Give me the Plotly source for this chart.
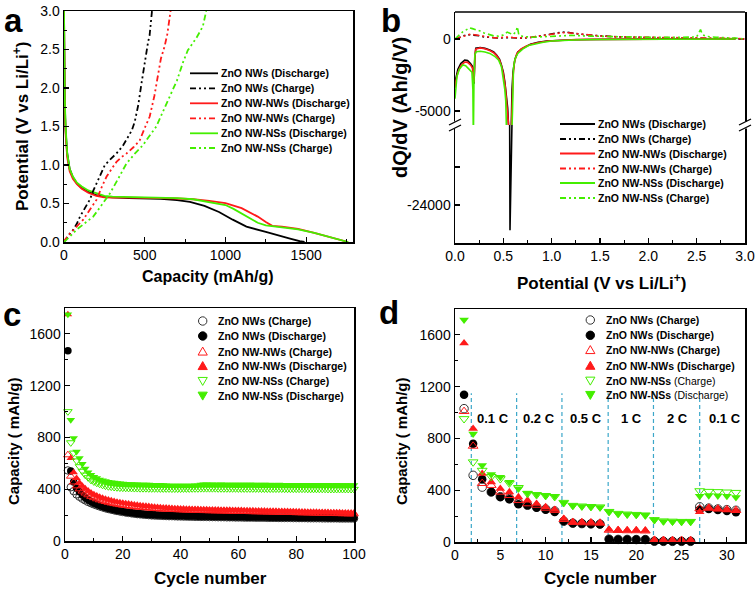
import plotly.graph_objects as go

W, H = 756, 590
FONT = "Liberation Sans, Arial, Helvetica, sans-serif"
BLACK = "#000000"
RED = "#ff1a1a"
GREEN = "#44ee00"
GREY = "#333333"
RATE_LINE = "#3ba7c9"
DASH = "6px,3px,2px,3px,2px,3px"

# ---------------- Panel a : first charge/discharge profiles ----------------
a_nws_dis_cap = [0, 2, 5, 10, 20, 35, 55, 80, 110, 150, 200, 250, 300, 400, 500, 600, 700, 780, 870, 960,
                 1045, 1100, 1130, 1250, 1330, 1400, 1460, 1490]
a_nws_dis_v = [3.0, 2.3, 1.8, 1.45, 1.15, 0.95, 0.84, 0.76, 0.70, 0.65, 0.61, 0.59, 0.58, 0.57, 0.565, 0.56,
               0.545, 0.52, 0.47, 0.39, 0.29, 0.23, 0.20, 0.13, 0.08, 0.045, 0.01, 0.0]
a_nwnws_dis_cap = [0, 2, 5, 10, 20, 35, 55, 80, 110, 150, 200, 250, 300, 400, 500, 600, 700, 800, 900, 1000,
                   1100, 1150, 1200, 1250, 1290, 1350, 1450, 1550, 1650, 1720, 1760]
a_nwnws_dis_v = [3.0, 2.2, 1.75, 1.4, 1.1, 0.92, 0.82, 0.75, 0.69, 0.64, 0.6, 0.58, 0.575, 0.575, 0.575, 0.57,
                 0.565, 0.555, 0.535, 0.505, 0.44, 0.39, 0.33, 0.26, 0.21, 0.2, 0.17, 0.12, 0.06, 0.02, 0.0]
a_nwnss_dis_cap = [0, 2, 5, 10, 20, 35, 55, 80, 110, 150, 200, 250, 300, 400, 500, 600, 700, 800, 900, 1000,
                   1050, 1100, 1150, 1200, 1250, 1290, 1350, 1450, 1550, 1650, 1720, 1760]
a_nwnss_dis_v = [3.0, 2.3, 1.85, 1.5, 1.15, 0.95, 0.85, 0.77, 0.72, 0.67, 0.63, 0.6, 0.59, 0.585, 0.585, 0.58,
                 0.57, 0.555, 0.52, 0.48, 0.43, 0.37, 0.31, 0.25, 0.215, 0.205, 0.195, 0.165, 0.12, 0.06,
                 0.02, 0.0]
a_nws_chg_cap = [0, 16, 40, 58, 80, 99, 130, 160, 180, 202, 230, 253, 290, 325, 365, 397, 420, 438, 460, 480,
                 500, 521, 530, 545]
a_nws_chg_v = [0, 0.05, 0.12, 0.16, 0.24, 0.33, 0.44, 0.55, 0.66, 0.76, 0.9, 1.0, 1.08, 1.15, 1.25, 1.37, 1.45,
               1.56, 1.78, 2.06, 2.35, 2.6, 2.68, 3.0]
a_nwnws_chg_cap = [0, 6, 37, 80, 119, 160, 202, 235, 264, 295, 325, 355, 387, 430, 469, 500, 531, 560, 582, 600,
                   623, 640, 660]
a_nwnws_chg_v = [0, 0.03, 0.11, 0.2, 0.29, 0.42, 0.55, 0.72, 0.85, 0.95, 1.04, 1.1, 1.15, 1.23, 1.32, 1.48,
                 1.63, 1.9, 2.15, 2.38, 2.54, 2.7, 3.0]
a_nwnss_chg_cap = [0, 16, 78, 130, 181, 230, 284, 330, 387, 440, 490, 530, 572, 610, 654, 700, 740, 767, 820,
                   860, 881]
a_nwnss_chg_v = [0, 0.03, 0.16, 0.24, 0.33, 0.47, 0.63, 0.8, 1.02, 1.15, 1.26, 1.38, 1.5, 1.68, 1.89, 2.1, 2.35,
                 2.49, 2.65, 2.8, 3.0]

# ---------------- Panel b : dQ/dV ----------------
b_nws_dis_v = [0.000, 0.010, 0.030, 0.060, 0.100, 0.130, 0.160, 0.180, 0.190, 0.197, 0.205, 0.215, 0.260,
               0.310, 0.360, 0.400, 0.430, 0.460, 0.480, 0.500, 0.515, 0.530, 0.545, 0.555, 0.565, 0.569,
               0.573, 0.580, 0.590, 0.600, 0.620, 0.650, 0.700, 0.780, 0.860, 0.950, 1.080, 1.220, 1.400,
               1.600, 2.000, 2.500, 2.900]
b_nws_dis_q = [-3200, -2700, -2100, -1700, -1460, -1500, -1700, -1900, -2300, -3100, -1300, -640, -600, -650,
               -760, -900, -1110, -1400, -1800, -2300, -2960, -3900, -4800, -6200, -9000, -28000, -9000,
               -6200, -3500, -2300, -1400, -900, -650, -370, -230, -140, -80, -50, -30, -15, -10, -5, 0]
b_nwnws_dis_v = [0.000, 0.010, 0.030, 0.060, 0.100, 0.130, 0.160, 0.180, 0.190, 0.197, 0.205, 0.215, 0.260,
                 0.310, 0.360, 0.400, 0.430, 0.460, 0.480, 0.500, 0.520, 0.535, 0.550, 0.560, 0.570, 0.580,
                 0.590, 0.600, 0.615, 0.640, 0.680, 0.740, 0.800, 0.880, 0.970, 1.100, 1.250, 1.450, 1.700,
                 2.100, 2.500, 2.900]
b_nwnws_dis_q = [-3400, -2900, -2300, -1850, -1600, -1620, -1800, -2000, -2500, -3000, -1250, -700, -620,
                 -680, -800, -950, -1150, -1450, -1850, -2400, -3300, -4500, -6800, -7200, -7200, -6900,
                 -4200, -2600, -1600, -1000, -700, -480, -340, -220, -140, -80, -45, -25, -15, -10, -5, 0]
b_nwnss_dis_v = [0.000, 0.008, 0.020, 0.045, 0.080, 0.110, 0.150, 0.175, 0.185, 0.190, 0.196, 0.205, 0.220,
                 0.260, 0.310, 0.360, 0.410, 0.450, 0.480, 0.500, 0.515, 0.525, 0.535, 0.560, 0.585, 0.595,
                 0.605, 0.620, 0.650, 0.700, 0.760, 0.820, 0.900, 1.000, 1.150, 1.300, 1.500, 1.800, 2.200,
                 2.600, 2.900]
b_nwnss_dis_q = [-4150, -3200, -2600, -2100, -1800, -1850, -2100, -2300, -3500, -7000, -3000, -1100, -880,
                 -850, -900, -1000, -1200, -1460, -1900, -2700, -3500, -4300, -7000, -7000, -7000, -5000,
                 -2040, -1400, -1000, -700, -450, -370, -240, -140, -80, -50, -30, -15, -10, -5, 0]
b_chg_v = [0.0, 0.05, 0.1, 0.15, 0.2, 0.25, 0.3, 0.35, 0.4, 0.45, 0.5, 0.55, 0.6, 0.65, 0.7, 0.8, 0.9, 1.0,
           1.1, 1.15, 1.2, 1.3, 1.5, 1.7, 2.0, 2.3, 2.6, 2.9, 3.0]
b_nws_chg_q = [0, 150, 250, 300, 280, 230, 150, 100, 90, 80, 100, 120, 90, 60, 60, 120, 250, 380, 470, 480,
               430, 330, 220, 150, 100, 80, 60, 40, 0]
b_nwnws_chg_q = [0, 120, 230, 320, 300, 240, 170, 110, 90, 90, 110, 140, 100, 70, 70, 130, 240, 350, 430, 450,
                 420, 320, 210, 140, 100, 80, 70, 50, 0]
b_nwnss_chg_v = [0.0, 0.04, 0.08, 0.12, 0.15, 0.18, 0.22, 0.26, 0.3, 0.35, 0.4, 0.45, 0.5, 0.54, 0.56, 0.6,
                 0.63, 0.645, 0.66, 0.7, 0.8, 0.9, 1.0, 1.1, 1.2, 1.4, 1.6, 1.8, 2.0, 2.3, 2.5, 2.54, 2.56,
                 2.6, 2.7, 2.9, 3.0]
b_nwnss_chg_q = [0, 250, 500, 650, 780, 720, 650, 550, 420, 300, 220, 200, 280, 480, 420, 300, 500, 850, 300,
                 180, 120, 150, 220, 260, 250, 200, 160, 130, 120, 110, 150, 650, 300, 180, 120, 60, 0]

# ---------------- Panel c : cycling (100 cycles) ----------------
c_cycles = [1, 2, 3, 4, 5, 6, 7, 8, 9, 10, 11, 12, 13, 14, 15, 16, 17, 18, 19, 20,
            21, 22, 23, 24, 25, 26, 27, 28, 29, 30, 31, 32, 33, 34, 35, 36, 37, 38, 39, 40,
            41, 42, 43, 44, 45, 46, 47, 48, 49, 50, 51, 52, 53, 54, 55, 56, 57, 58, 59, 60,
            61, 62, 63, 64, 65, 66, 67, 68, 69, 70, 71, 72, 73, 74, 75, 76, 77, 78, 79, 80,
            81, 82, 83, 84, 85, 86, 87, 88, 89, 90, 91, 92, 93, 94, 95, 96, 97, 98, 99, 100]
c_nws_chg = [545, 415, 385, 360, 342, 327, 314, 302, 292, 283, 275, 267, 260, 253, 247, 242, 237, 232, 228, 224,
             220, 217, 214, 211, 208, 206, 204, 202, 200, 198, 197, 196, 195, 194, 193, 192, 192, 191, 190, 190,
             189, 189, 188, 188, 187, 187, 186, 186, 186, 185, 185, 185, 184, 184, 184, 183, 183, 183, 182, 182,
             182, 181, 181, 181, 181, 180, 180, 180, 180, 179, 179, 179, 179, 178, 178, 178, 178, 178, 177, 177,
             177, 177, 177, 176, 176, 176, 176, 176, 175, 175, 175, 175, 175, 175, 174, 174, 174, 174, 174, 174]
c_nws_dis = [1470, 540, 455, 410, 380, 355, 335, 318, 305, 293, 283, 274, 266, 259, 253, 247, 242, 237, 233, 229,
             225, 222, 219, 216, 213, 211, 209, 207, 205, 203, 202, 201, 200, 199, 198, 197, 197, 196, 196, 195,
             195, 194, 194, 193, 193, 192, 192, 192, 191, 191, 190, 190, 190, 189, 189, 189, 188, 188, 188, 187,
             187, 187, 186, 186, 186, 186, 185, 185, 185, 185, 184, 184, 184, 184, 184, 183, 183, 183, 183, 183,
             182, 182, 182, 182, 182, 181, 181, 181, 181, 181, 180, 180, 180, 180, 180, 179, 179, 179, 179, 179]
c_nwnws_chg = [665, 500, 455, 425, 402, 385, 370, 356, 344, 334, 325, 317, 310, 304, 298, 293, 288, 284, 280, 276,
               273, 270, 267, 264, 262, 260, 258, 256, 254, 252, 250, 249, 247, 246, 245, 244, 243, 242, 241, 240,
               239, 238, 238, 237, 236, 236, 235, 234, 234, 233, 233, 232, 232, 231, 231, 230, 230, 229, 229, 228,
               228, 227, 227, 226, 226, 225, 225, 224, 224, 223, 223, 222, 222, 221, 221, 220, 220, 219, 219, 218,
               218, 217, 217, 216, 216, 215, 215, 214, 214, 213, 213, 212, 212, 211, 211, 210, 210, 209, 209, 209]
c_nwnws_dis = [1750, 640, 530, 485, 450, 425, 405, 388, 372, 360, 350, 340, 332, 325, 318, 312, 307, 302, 298, 294,
               290, 287, 284, 281, 278, 275, 272, 270, 268, 265, 263, 261, 259, 257, 256, 254, 253, 252, 251, 250,
               249, 248, 247, 246, 246, 245, 244, 244, 243, 242, 242, 241, 241, 240, 240, 239, 239, 238, 238, 237,
               237, 236, 236, 235, 235, 234, 234, 233, 233, 232, 232, 231, 231, 230, 230, 229, 229, 228, 228, 227,
               227, 226, 226, 225, 225, 224, 224, 223, 223, 222, 222, 221, 221, 220, 220, 219, 219, 218, 218, 218]
c_nwnss_chg = [1000, 760, 680, 620, 575, 540, 510, 490, 470, 458, 448, 440, 432, 426, 421, 418, 415, 413, 411, 410,
               409, 408, 408, 407, 407, 406, 406, 406, 405, 405, 405, 405, 404, 404, 404, 404, 403, 403, 403, 403,
               404, 404, 404, 405, 405, 405, 406, 406, 406, 406, 406, 406, 405, 405, 405, 405, 405, 405, 405, 404,
               404, 404, 404, 404, 404, 404, 404, 403, 403, 403, 403, 403, 403, 403, 403, 402, 402, 402, 402, 402,
               402, 402, 402, 401, 401, 401, 401, 401, 401, 401, 400, 400, 400, 400, 400, 400, 400, 400, 400, 400]
c_nwnss_dis = [1750, 935, 795, 690, 640, 595, 560, 530, 510, 495, 485, 475, 468, 462, 457, 453, 450, 447, 445, 443,
               441, 440, 439, 438, 437, 436, 436, 435, 435, 434, 434, 433, 433, 432, 430, 428, 428, 427, 427, 428,
               428, 427, 428, 428, 429, 430, 436, 437, 437, 436, 437, 436, 436, 437, 436, 436, 435, 436, 436, 435,
               436, 435, 435, 436, 435, 435, 434, 435, 435, 434, 435, 434, 434, 435, 434, 434, 433, 434, 434, 433,
               434, 433, 433, 434, 433, 433, 432, 433, 433, 432, 433, 432, 432, 433, 432, 432, 431, 432, 432, 431]

# ---------------- Panel d : rate capability ----------------
d_cycles = [1, 2, 3, 4, 5, 6, 7, 8, 9, 10, 11, 12, 13, 14, 15, 16, 17, 18, 19, 20, 21, 22, 23, 24, 25, 26,
            27, 28, 29, 30, 31]
d_nws_chg = [1030, 515, 424, 386, 350, 335, 300, 285, 270, 255, 240, 160, 145, 142, 140, 138, 22, 20, 20, 19,
             19, 6, 5, 5, 5, 5, 272, 262, 255, 250, 245]
d_nws_dis = [1137, 759, 484, 386, 347, 330, 291, 283, 265, 250, 232, 162, 145, 142, 140, 138, 22, 20, 20, 19,
             19, 6, 5, 5, 5, 5, 250, 255, 248, 240, 230]
d_nwnws_chg = [1009, 741, 453, 438, 386, 360, 322, 296, 285, 262, 245, 175, 152, 150, 148, 146, 92, 90, 88, 88,
               86, 14, 13, 12, 12, 12, 258, 262, 255, 250, 245]
d_nwnws_dis = [1536, 875, 528, 463, 412, 386, 347, 322, 296, 270, 250, 180, 155, 152, 150, 148, 95, 92, 90, 90,
               88, 15, 14, 13, 13, 13, 232, 262, 255, 248, 240]
d_nwnss_chg = [952, 618, 553, 505, 488, 455, 420, 375, 365, 358, 350, 305, 282, 277, 273, 270, 235, 220, 215,
               212, 208, 172, 162, 160, 158, 158, 395, 390, 388, 385, 382]
d_nwnss_dis = [1716, 836, 592, 522, 502, 463, 412, 378, 368, 360, 353, 301, 281, 276, 272, 268, 233, 218, 213,
               210, 207, 170, 160, 158, 157, 157, 355, 360, 358, 355, 345]
rate_names = ["0.1 C", "0.2 C", "0.5 C", "1 C", "2 C", "0.1 C"]
rate_label_x = [4.2, 9.3, 14.4, 19.5, 24.5, 29.8]
rate_boundaries = [1.8, 6.8, 11.8, 16.9, 21.9, 27.0]

line_names = ["ZnO NWs (Discharge)", "ZnO NWs (Charge)", "ZnO NW-NWs (Discharge)",
              "ZnO NW-NWs (Charge)", "ZnO NW-NSs (Discharge)", "ZnO NW-NSs (Charge)"]
marker_names = ["ZnO NWs (Charge)", "ZnO NWs (Discharge)", "ZnO NW-NWs (Charge)",
                "ZnO NW-NWs (Discharge)", "ZnO NW-NSs (Charge)", "ZnO NW-NSs (Discharge)"]

fig = go.Figure()

# ---- panel a traces
for cap, v, col in [(a_nws_dis_cap, a_nws_dis_v, BLACK), (a_nwnws_dis_cap, a_nwnws_dis_v, RED),
                    (a_nwnss_dis_cap, a_nwnss_dis_v, GREEN)]:
    fig.add_trace(go.Scatter(x=cap, y=v, mode="lines", line=dict(color=col, width=1.8),
                             xaxis="x", yaxis="y", showlegend=False))
for cap, v, col in [(a_nws_chg_cap, a_nws_chg_v, BLACK), (a_nwnws_chg_cap, a_nwnws_chg_v, RED),
                    (a_nwnss_chg_cap, a_nwnss_chg_v, GREEN)]:
    fig.add_trace(go.Scatter(x=cap, y=v, mode="lines", line=dict(color=col, width=1.8, dash=DASH),
                             xaxis="x", yaxis="y", showlegend=False))

# ---- panel b traces (broken y axis: y2 top, y3 bottom)
for vv, qq, col in [(b_chg_v, b_nws_chg_q, BLACK), (b_chg_v, b_nwnws_chg_q, RED),
                    (b_nwnss_chg_v, b_nwnss_chg_q, GREEN)]:
    fig.add_trace(go.Scatter(x=vv, y=qq, mode="lines", line=dict(color=col, width=1.6, dash=DASH),
                             xaxis="x2", yaxis="y2", showlegend=False))
for vv, qq, col in [(b_nws_dis_v, b_nws_dis_q, BLACK), (b_nwnws_dis_v, b_nwnws_dis_q, RED),
                    (b_nwnss_dis_v, b_nwnss_dis_q, GREEN)]:
    for ya in ["y2", "y3"]:
        fig.add_trace(go.Scatter(x=vv, y=qq, mode="lines", line=dict(color=col, width=1.6),
                                 xaxis="x2", yaxis=ya, showlegend=False))


def mk(symbol, color, size, filled):
    if filled:
        return dict(symbol=symbol, color=color, size=size, line=dict(width=0))
    return dict(symbol=symbol + "-open", color=color, size=size, line=dict(width=1, color=color))


series_style = [("circle", GREY, False), ("circle", BLACK, True), ("triangle-up", RED, False),
                ("triangle-up", RED, True), ("triangle-down", GREEN, False), ("triangle-down", GREEN, True)]

c_series = [c_nws_chg, c_nws_dis, c_nwnws_chg, c_nwnws_dis, c_nwnss_chg, c_nwnss_dis]
for vals, (sym, col, filled) in zip(c_series, series_style):
    fig.add_trace(go.Scatter(x=c_cycles, y=vals, mode="markers", marker=mk(sym, col, 7.5, filled),
                             xaxis="x3", yaxis="y4", showlegend=False, cliponaxis=False))

d_series = [d_nws_chg, d_nws_dis, d_nwnws_chg, d_nwnws_dis, d_nwnss_chg, d_nwnss_dis]
for vals, (sym, col, filled) in zip(d_series, series_style):
    fig.add_trace(go.Scatter(x=d_cycles, y=vals, mode="markers", marker=mk(sym, col, 8.5, filled),
                             xaxis="x4", yaxis="y5", showlegend=False, cliponaxis=False))


def ax(**kw):
    base = dict(showline=True, linecolor="black", linewidth=1.5, mirror=True, ticks="inside", ticklen=5,
                tickwidth=1.2, tickcolor="black", showgrid=False, zeroline=False, automargin=False,
                tickfont=dict(family=FONT, size=14, color="black"), fixedrange=True)
    base.update(kw)
    return base


def minor(d):
    return dict(ticks="inside", ticklen=3, tickwidth=1, tickcolor="black", dtick=d, showgrid=False)


def X(p):
    return p / W


def Y(p):
    return 1 - p / H


shapes = []
annotations = []

# panel b top border + axis break marks
shapes.append(dict(type="line", xref="paper", yref="paper", x0=X(455), x1=X(745), y0=Y(12), y1=Y(12),
                   line=dict(color="black", width=1.5)))
for bx in [455, 745]:
    shapes.append(dict(type="rect", xref="paper", yref="paper", x0=X(bx - 3), x1=X(bx + 3), y0=Y(128.5),
                       y1=Y(121.5), fillcolor="white", line=dict(width=0)))
    for off in [-3, 3]:
        shapes.append(dict(type="line", xref="paper", yref="paper", x0=X(bx - 6), x1=X(bx + 6),
                           y0=Y(125 + off + 3), y1=Y(125 + off - 3), line=dict(color="black", width=1.3)))

# panel d rate dividers and labels
for xb in rate_boundaries:
    shapes.append(dict(type="line", xref="x4", yref="y5", x0=xb, x1=xb, y0=0, y1=1150,
                       line=dict(color=RATE_LINE, width=1.2, dash="4px,3px"), layer="below"))
for nm, xl in zip(rate_names, rate_label_x):
    annotations.append(dict(xref="x4", yref="y5", x=xl, y=955, text="<b>%s</b>" % nm, showarrow=False,
                            font=dict(family=FONT, size=13, color="black")))

LEG_FONT = dict(family=FONT, size=10.5, color="black")


def leg_text(x, y, text):
    annotations.append(dict(xref="paper", yref="paper", x=X(x), y=Y(y), xanchor="left", yanchor="middle",
                            text=text, showarrow=False, font=LEG_FONT))


# legends for line panels a, b
line_styles = [(BLACK, None), (BLACK, DASH), (RED, None), (RED, DASH), (GREEN, None), (GREEN, DASH)]
for rows, xl, xr, xt in [([73.3, 88.3, 103.3, 118.3, 133.3, 148], 190, 218, 219),
                         ([124, 139, 153.5, 168.5, 183, 198], 560, 595, 596)]:
    for yr, (col, dsh), nm in zip(rows, line_styles, line_names):
        ln = dict(color=col, width=1.8)
        if dsh:
            ln["dash"] = dsh
        shapes.append(dict(type="line", xref="paper", yref="paper", x0=X(xl), x1=X(xr), y0=Y(yr), y1=Y(yr),
                           line=ln))
        leg_text(xt, yr, "<b>%s</b>" % nm)


def glyph(cx, cy, sym, col, filled, r=4.2):
    fill = col if filled else "rgba(0,0,0,0)"
    if sym == "circle":
        shapes.append(dict(type="circle", xref="paper", yref="paper", x0=X(cx - r), x1=X(cx + r),
                           y0=Y(cy + r), y1=Y(cy - r), fillcolor=fill, line=dict(color=col, width=1)))
    else:
        if sym == "triangle-up":
            pts = [(cx, cy - r * 1.05), (cx - r * 1.1, cy + r * 0.85), (cx + r * 1.1, cy + r * 0.85)]
        else:
            pts = [(cx, cy + r * 1.05), (cx - r * 1.1, cy - r * 0.85), (cx + r * 1.1, cy - r * 0.85)]
        path = "M %f %f L %f %f L %f %f Z" % (X(pts[0][0]), Y(pts[0][1]), X(pts[1][0]), Y(pts[1][1]),
                                              X(pts[2][0]), Y(pts[2][1]))
        shapes.append(dict(type="path", xref="paper", yref="paper", path=path, fillcolor=fill,
                           line=dict(color=col, width=1)))


c_rows = [321, 336, 351.5, 366, 381, 395.7]
for yr, (sym, col, filled), nm in zip(c_rows, series_style, marker_names):
    glyph(202.7, yr, sym, col, filled)
    leg_text(216, yr, "<b>%s</b>" % nm)
d_rows = [320, 335.3, 350, 365.7, 380.7, 395]
for i, (yr, (sym, col, filled), nm) in enumerate(zip(d_rows, series_style, marker_names)):
    glyph(590.3, yr, sym, col, filled)
    if i >= 4:
        base, paren = nm.split(" (")
        txt = "<b>%s</b> (%s" % (base, paren)
    else:
        txt = "<b>%s</b>" % nm
    leg_text(604, yr, txt)

# axis titles
TF = dict(family=FONT, size=16, color="black")
titles = [
    (208, 276, 0, "<b>Capacity (mAh/g)</b>", TF),
    (21, 127, -90, "<b>Potential (V vs Li/Li<sup>+</sup>)</b>", dict(TF, size=17)),
    (601, 282, 0, "<b>Potential (V vs Li/Li<sup>+</sup>)</b>", dict(TF, size=17)),
    (400, 108, -90, "<b>dQ/dV (Ah/g/V)</b>", dict(TF, size=20)),
    (210, 578, 0, "<b>Cycle number</b>", dict(TF, size=17)),
    (13, 441, -90, "<b>Capacity ( mAh/g)</b>", dict(TF, size=15)),
    (600, 578, 0, "<b>Cycle number</b>", dict(TF, size=17)),
    (401, 441, -90, "<b>Capacity ( mAh/g)</b>", dict(TF, size=15)),
]
for x, y, ang, txt, f in titles:
    annotations.append(dict(xref="paper", yref="paper", x=X(x), y=Y(y), xanchor="center", yanchor="middle",
                            textangle=ang, text=txt, showarrow=False, font=f))

# panel letters
for x, y, t in [(2, 0, "a"), (379, 0, "b"), (1, 294, "c"), (377, 292, "d")]:
    annotations.append(dict(xref="paper", yref="paper", x=X(x), y=Y(y), xanchor="left", yanchor="top",
                            text="<b>%s</b>" % t, showarrow=False,
                            font=dict(family=FONT, size=33, color="black")))

fig.update_layout(
    template="none",
    width=W, height=H, margin=dict(l=0, r=0, t=0, b=0, pad=0, autoexpand=False),
    paper_bgcolor="white", plot_bgcolor="white",
    showlegend=False,
    xaxis=ax(domain=[X(64), X(353)], anchor="y", range=[0, 1790], dtick=500, minor=minor(250)),
    yaxis=ax(domain=[Y(242), Y(11)], anchor="x", range=[0, 3.0], dtick=0.5, tickformat=".1f",
             minor=minor(0.25)),
    xaxis2=ax(domain=[X(455), X(745)], anchor="y3", range=[0, 3.0], dtick=0.5, tickformat=".1f",
              mirror=False, minor=minor(0.25)),
    yaxis2=ax(domain=[Y(125), Y(12)], anchor="x2", range=[-5970, 1875], tickmode="array",
              tickvals=[-5000, 0], ticktext=["-5000", "0"]),
    yaxis3=ax(domain=[Y(243), Y(125)], anchor="x2", range=[-30000, -11370], tickmode="array",
              tickvals=[-24000], ticktext=["-24000"],
              minor=dict(ticks="inside", ticklen=5, tickwidth=1.2, tickcolor="black", tickmode="array",
                         tickvals=[-18000], showgrid=False)),
    xaxis3=ax(domain=[X(65), X(354)], anchor="y4", range=[0, 100], dtick=20, minor=minor(10)),
    yaxis4=ax(domain=[Y(541), Y(308)], anchor="x3", range=[0, 1800], dtick=400, minor=minor(200)),
    xaxis4=ax(domain=[X(455), X(745)], anchor="y5", range=[0, 32], dtick=5, minor=minor(2.5)),
    yaxis5=ax(domain=[Y(542), Y(309)], anchor="x4", range=[0, 1800], dtick=400, minor=minor(200)),
    shapes=shapes, annotations=annotations,
)

# the page is photographed from its top-left corner: drop the browser's default body margin
fig.write_html("out.html", config={"displayModeBar": False, "staticPlot": True},
               post_script="document.body.style.margin='0px';")
